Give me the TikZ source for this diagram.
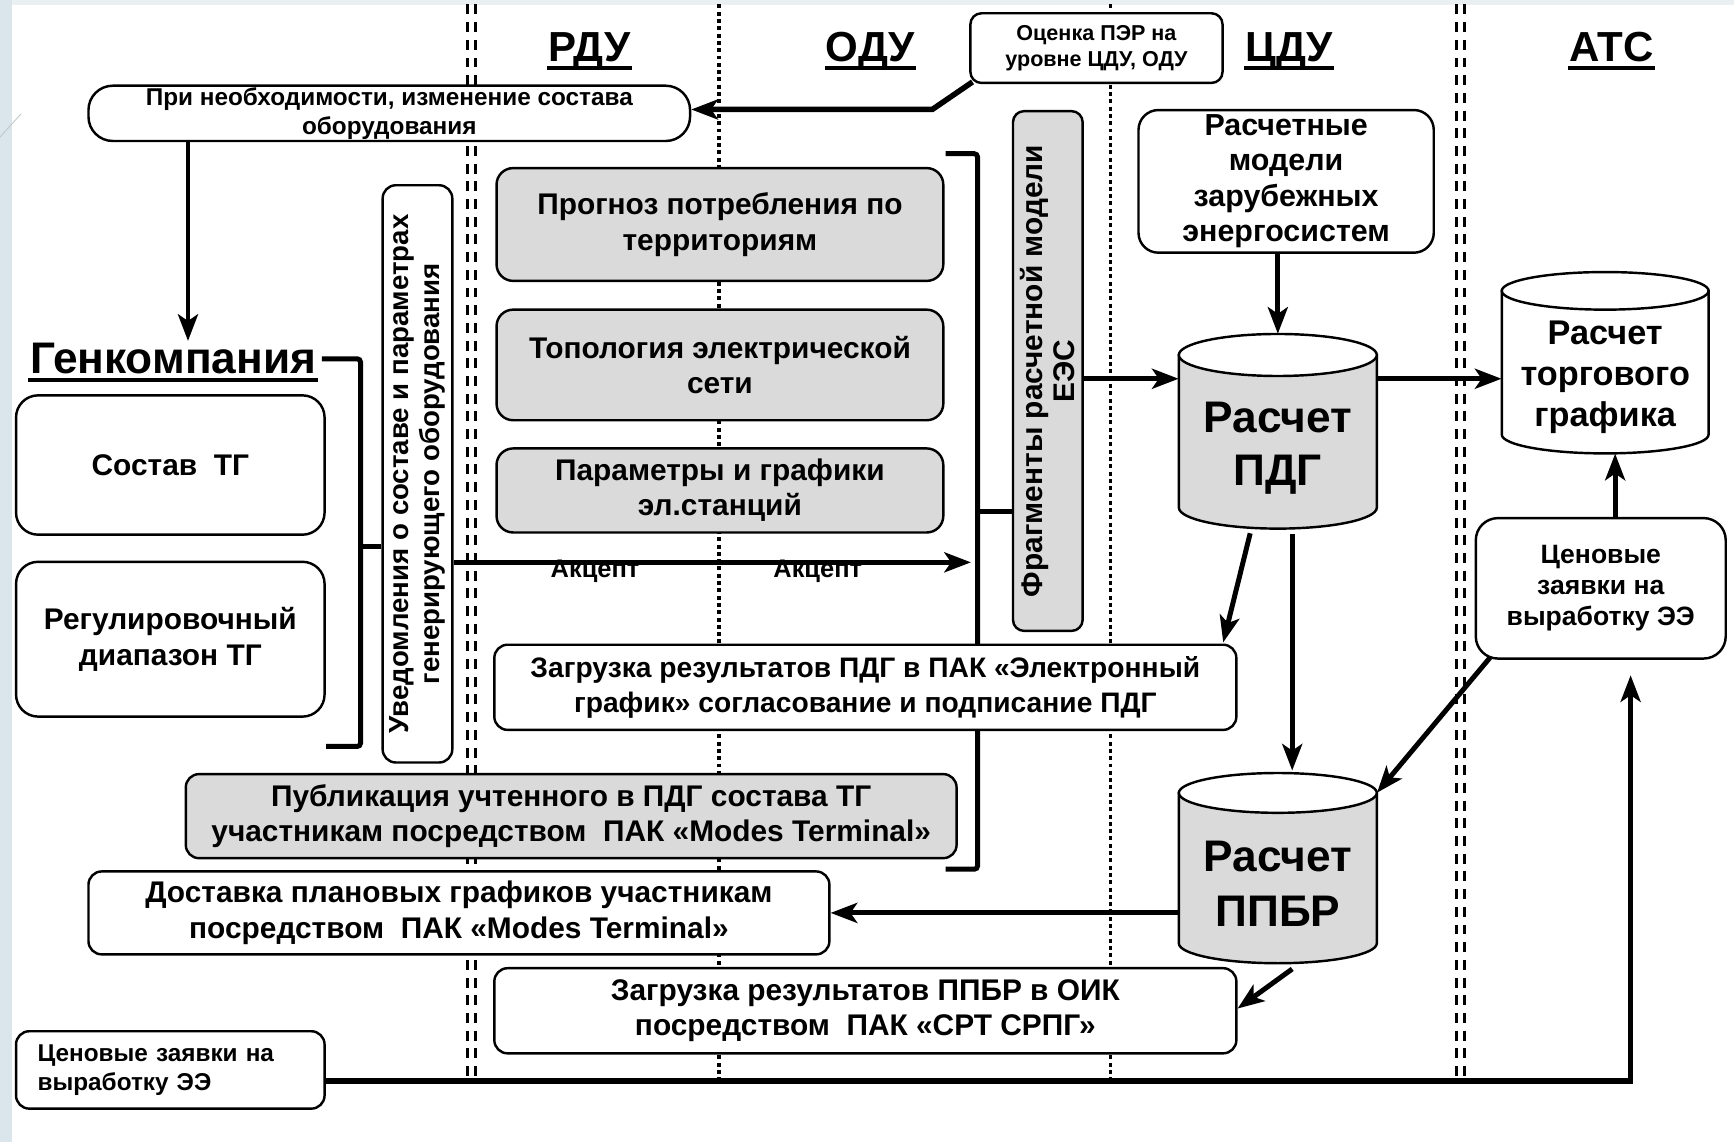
\documentclass[tikz,border=0pt]{standalone}
\usepackage{fontspec}
\setmainfont{Liberation Sans}
\usetikzlibrary{arrows.meta,calc}

\definecolor{shadefill}{gray}{0.855}
\definecolor{slideband}{RGB}{218,230,235}
\definecolor{slidetop}{RGB}{234,240,242}

% bold text of a given size / line spacing
\newcommand\tsz[2]{\fontsize{#1}{#2}\selectfont\bfseries}

% upright drum: centre x, top-ellipse centre y, bottom-ellipse centre y, rx, ry, body fill
\newcommand\drumpath[6]{%
  \pgfmathsetmacro\drL{#1-#4}%
  \pgfmathsetmacro\drR{#1+#4}%
  \pgfmathsetmacro\drKx{0.5523*#4}%
  \pgfmathsetmacro\drKy{0.5523*#5}%
  \filldraw[drumline, fill=#6] (\drL,#2) -- (\drL,#3)
    .. controls (\drL,#3+\drKy) and (#1-\drKx,#3+#5) .. (#1,#3+#5)
    .. controls (#1+\drKx,#3+#5) and (\drR,#3+\drKy) .. (\drR,#3)
    -- (\drR,#2) -- cycle;
  \filldraw[drumline, fill=white] (#1,#2) ellipse [x radius=#4, y radius=#5];
}

\begin{document}
\begin{tikzpicture}[x=1pt,y=-1pt,
  base/.style={draw, line width=2.2pt, fill=white, align=center, inner sep=0pt, font=\tsz{27}{32}},
  box/.style={base, rounded corners=12pt},
  shadebox/.style={box, fill=shadefill},
  hdr/.style={inner sep=1pt, anchor=base, font=\tsz{38}{44}},
  uline/.style={line width=3.2pt},
  arr/.style={line width=4.5pt, -{Stealth[length=24pt,width=18pt,inset=6pt]}},
  brk/.style={line width=4.5pt, rounded corners=3pt},
  sepdd/.style={line width=2.6pt, dash pattern=on 9pt off 7pt},
  sepdot/.style={line width=3.2pt, dash pattern=on 3.6pt off 3pt},
  drumline/.style={line width=2.2pt},
  drumarea/.style={inner sep=0pt},
  drumtext/.style={align=center, inner sep=0pt},
  akc/.style={below, inner sep=0pt, yshift=4pt, font=\tsz{23}{26}},
  slideline/.style={line width=0.8pt, draw=slideband!70!gray},
]
\useasboundingbox (0,0) rectangle (1568,1033);
\fill[white] (0,0) rectangle (1568,1033);
\fill[slidetop] (0,0) rectangle (1568,4.5);
\fill[slideband] (0,0) rectangle (11,1033);
\draw[slideline] (0,124) -- (19,103);

% zone separators
\draw[sepdd] (423,4) -- (423,977);
\draw[sepdd] (430,4) -- (430,977);
\draw[sepdot] (650,4) -- (650,977);
\draw[sepdot] (1004,4) -- (1004,977);
\draw[sepdd] (1317,4) -- (1317,977);
\draw[sepdd] (1324,4) -- (1324,977);

% zone headers
\node[hdr] (hRDU) at (533,56) {РДУ};
\node[hdr] (hODU) at (787,56) {ОДУ};
\node[hdr] (hCDU) at (1166,56) {ЦДУ};
\node[hdr] (hATS) at (1457,56) {АТС};
\foreach \h in {hRDU,hODU,hCDU,hATS}
  \draw[uline] ([yshift=-5.5pt]\h.base west) -- ([yshift=-5.5pt]\h.base east);

% right-hand bracket gathering the ODU inputs (runs behind the boxes)
\coordinate (brRtop) at (884,139);
\coordinate (brRbot) at (884,786);
\coordinate (brRmid) at (884,462.5);
\draw[brk] (855,139) -- (brRtop) -- (brRbot) -- (855,786);

% boxes
\node[box, rounded corners=10pt, minimum width=228pt, minimum height=63pt, font=\tsz{19.5}{24}] (ocenka) at (991.5,43.5) {Оценка ПЭР на\\уровне ЦДУ, ОДУ};
\node[box, rounded corners=22pt, minimum width=544pt, minimum height=50pt, font=\tsz{22}{26}] (pri) at (352,102.5) {При необходимости, изменение состава\\оборудования};

\node[inner sep=2pt, anchor=base east, font=\tsz{40}{46}] (genk) at (288,338) {Генкомпания};
\draw[uline, line width=3.6pt] ([yshift=-6pt]genk.base west) -- ([yshift=-6pt]genk.base east);

\node[box, rounded corners=20pt, minimum width=279pt, minimum height=126pt] (sostav) at (154,420.5) {Состав~ ТГ};
\node[box, rounded corners=20pt, minimum width=279pt, minimum height=140pt] (regul) at (154,578) {Регулировочный\\диапазон ТГ};

\node[box, rotate=90, minimum width=522pt, minimum height=63pt, font=\tsz{25}{28}] (uved) at (377.5,428.5) {Уведомления о составе и параметрах\\генерирующего оборудования};

\node[shadebox, rounded corners=15pt, minimum width=404pt, minimum height=102pt] (prog) at (651,203) {Прогноз потребления по\\территориям};
\node[shadebox, rounded corners=15pt, minimum width=404pt, minimum height=100pt] (topo) at (651,330) {Топология электрической\\сети};
\node[shadebox, rounded corners=15pt, minimum width=404pt, minimum height=76pt] (param) at (651,443.5) {Параметры и графики\\эл.станций};

\node[shadebox, rotate=90, rounded corners=10pt, minimum width=470pt, minimum height=63pt, font=\tsz{27}{29}] (frag) at (947.5,335.5) {Фрагменты расчетной модели\\ЕЭС};

\node[box, rounded corners=18pt, minimum width=267pt, minimum height=129pt, font=\tsz{27.5}{32}] (zarub) at (1163,164) {Расчетные\\модели\\зарубежных\\энергосистем};

% drums
\drumpath{1155.5}{321}{459}{89.5}{19}{shadefill}
\node[drumarea, minimum width=179pt, minimum height=176pt] (pdg) at (1155.5,390) {};
\node[drumtext, font=\tsz{40}{48}] (pdgtext) at (1155.5,405) {Расчет\\ПДГ};

\drumpath{1451.5}{263}{393}{93.5}{17}{white}
\node[drumarea, minimum width=187pt, minimum height=164pt] (torg) at (1451.5,328) {};
\node[drumtext, font=\tsz{31}{37}] (torgtext) at (1451.5,341) {Расчет\\торгового\\графика};

\drumpath{1155.5}{717}{853}{89.5}{18}{shadefill}
\node[drumarea, minimum width=179pt, minimum height=173pt] (ppbr) at (1155.5,785.5) {};
\node[drumtext, font=\tsz{40}{50}] (ppbrtext) at (1155.5,799) {Расчет\\ППБР};

\node[box, rounded corners=20pt, minimum width=226pt, minimum height=127pt, font=\tsz{24}{28}] (cenR) at (1447.5,532) {Ценовые\\заявки на\\выработку ЭЭ};

\node[box, minimum width=671pt, minimum height=77pt, font=\tsz{25.5}{31}] (zagr1) at (782.5,621.5) {Загрузка результатов ПДГ в ПАК «Электронный\\график» согласование и подписание ПДГ};
\node[shadebox, minimum width=697pt, minimum height=76pt] (publ) at (516.5,738) {Публикация учтенного в ПДГ состава ТГ\\участникам посредством~ ПАК «Modes Terminal»};
\node[box, minimum width=670pt, minimum height=75pt] (dost) at (415,825.5) {Доставка плановых графиков участникам\\посредством~ ПАК «Modes Terminal»};
\node[box, minimum width=671pt, minimum height=77pt] (zagr2) at (782.5,914) {Загрузка результатов ППБР в ОИК\\посредством~ ПАК «СРТ СРПГ»};
\node[box, align=left, text width=240pt, minimum width=279pt, minimum height=70pt, font=\tsz{22}{26}] (cenL) at (154,967.5) {Ценовые заявки на\\выработку ЭЭ};

% left-hand bracket of the generating company
\coordinate (brLbot) at (326,675);
\coordinate (brLmid) at (326,494.5);
\draw[brk] ([xshift=3pt]genk.east) -| (brLbot) -- ++(-31,0);
\draw[brk] (brLmid) -- (brLmid -| uved.north);
\draw[brk] (brRmid) -- (brRmid -| frag.north);

% connectors
\coordinate (okbend) at (843,99);
\draw[arr, line width=5pt] ([shift={(3pt,2pt)}]ocenka.south west) -- (okbend) -- (okbend -| pri.east);

\coordinate (dnx) at (170,0);
\draw[arr] (pri.south -| dnx) -- (dnx |- genk.north);

\coordinate (akcst) at ([yshift=-80pt]uved.south);
\draw[arr, shorten >=6pt] (akcst) -- (akcst -| brRtop)
  node[akc, pos=0.27] {Акцепт} node[akc, pos=0.695] {Акцепт};

\coordinate (fragout) at ([yshift=-7pt]frag.south);
\draw[arr] (fragout) -- (fragout -| pdg.west);
\draw[arr] (pdg.east |- fragout) -- (torg.west |- fragout);
\draw[arr] (pdg.north |- zarub.south) -- (pdg.north);

\draw[arr] ([xshift=-25pt,yshift=-4pt]pdg.south) -- ([xshift=-13pt,yshift=1pt]zagr1.north east);
\draw[arr] ([xshift=13pt,yshift=-5pt]pdg.south) -- ([xshift=13pt,yshift=2pt]ppbr.north);
\draw[arr] ([xshift=14pt,yshift=2pt]cenR.south west) -- ([yshift=-18pt]ppbr.north east);
\draw[arr] (ppbr.west |- dost.east) -- (dost.east);
\draw[arr] ([xshift=13pt,yshift=-4pt]ppbr.south) -- ([yshift=2pt]zagr2.east);

\coordinate (cenRtop) at ([xshift=13pt]cenR.north);
\draw[arr] (cenRtop) -- (cenRtop |- torg.south);

\draw[arr, line width=5pt] ([yshift=-10pt]cenL.east) -| ([xshift=27pt,yshift=-14pt]cenR.south);
\end{tikzpicture}
\end{document}
